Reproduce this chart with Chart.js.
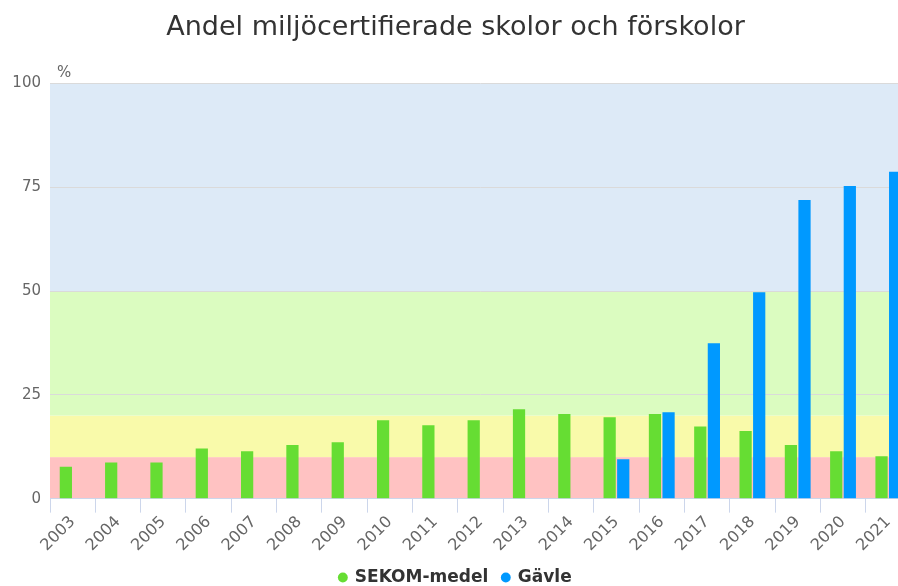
<!DOCTYPE html>
<html>
<head>
<meta charset="utf-8">
<script src="https://cdn.jsdelivr.net/npm/chart.js@4/dist/chart.umd.min.js"></script>
<style>
    html, body { margin: 0; padding: 0; overflow: hidden; background: #fff; }
    #chart-container { width: 920px; height: 596px; position: relative; }
</style>
</head>
<body>
<div id="chart-container"><canvas id="chart"></canvas></div>
<script>
const years = ['2003', '2004', '2005', '2006', '2007', '2008', '2009', '2010', '2011', '2012',
    '2013', '2014', '2015', '2016', '2017', '2018', '2019', '2020', '2021'];
const sekomValues = [7.7, 8.7, 8.7, 12.1, 11.4, 12.9, 13.6, 18.9, 17.7, 18.9,
    21.5, 20.4, 19.6, 20.4, 17.4, 16.3, 12.9, 11.4, 10.2];
const gavleValues = [null, null, null, null, null, null, null, null, null, null,
    null, null, 9.5, 20.8, 37.4, 49.7, 71.9, 75.3, 78.7];
const yTicks = [0, 25, 50, 75, 100];

// bakgrundsband (från, till, färg)
const bandFrom = [0, 10, 20, 50];
const bandTo = [10, 20, 50, 100];
const bandColors = ['#ffc2c2', '#f9faaa', '#dbfcc0', '#ddeaf7'];

const fontFamily = '"DejaVu Sans", "Lucida Grande", sans-serif';

const bandsPlugin = {
    id: 'bands',
    beforeDraw(chart) {
        const { ctx, chartArea, scales } = chart;
        ctx.save();
        bandFrom.forEach((from, i) => {
            const yTop = scales.y.getPixelForValue(bandTo[i]);
            const yBottom = scales.y.getPixelForValue(from);
            ctx.fillStyle = bandColors[i];
            ctx.fillRect(chartArea.left, yTop, chartArea.right - chartArea.left, yBottom - yTop);
        });
        ctx.restore();
    },
    afterDraw(chart) {
        const { ctx, chartArea } = chart;
        ctx.save();
        ctx.font = '15px ' + fontFamily;
        ctx.fillStyle = '#666666';
        ctx.textBaseline = 'bottom';
        ctx.fillText('%', chartArea.left + 7, chartArea.top - 3);
        ctx.restore();
    }
};

new Chart(document.getElementById('chart').getContext('2d'), {
    type: 'bar',
    data: {
        labels: years,
        datasets: [{
            label: 'SEKOM-medel',
            data: sekomValues,
            backgroundColor: '#66dd33',
            borderWidth: 0,
            barPercentage: 0.9,
            categoryPercentage: 0.6
        }, {
            label: 'Gävle',
            data: gavleValues,
            backgroundColor: '#0099ff',
            borderWidth: 0,
            barPercentage: 0.9,
            categoryPercentage: 0.6
        }]
    },
    options: {
        responsive: true,
        maintainAspectRatio: false,
        animation: false,
        layout: { padding: { left: 0, right: 9, top: 0, bottom: 0 } },
        scales: {
            y: {
                min: 0,
                max: 100,
                afterBuildTicks: (axis) => { axis.ticks = yTicks.map(v => ({ value: v })); },
                afterFit: (axis) => { axis.width = 50; },
                ticks: {
                    color: '#666666',
                    padding: 9,
                    font: { family: fontFamily, size: 15 }
                },
                grid: { color: '#dadada', drawTicks: false },
                border: { display: false }
            },
            x: {
                ticks: {
                    color: '#666666',
                    autoSkip: false,
                    minRotation: 45,
                    maxRotation: 45,
                    padding: 0,
                    font: { family: fontFamily, size: 16 }
                },
                grid: {
                    drawOnChartArea: false,
                    color: '#ccd6eb',
                    tickLength: 14
                },
                border: { color: '#ccd6eb' }
            }
        },
        plugins: {
            title: {
                display: true,
                text: 'Andel miljöcertifierade skolor och förskolor',
                color: '#333333',
                font: { family: fontFamily, size: 27, weight: 'normal' },
                padding: { top: 12, bottom: 39 }
            },
            legend: {
                position: 'bottom',
                labels: {
                    usePointStyle: true,
                    pointStyle: 'circle',
                    boxWidth: 7,
                    boxHeight: 7,
                    color: '#333333',
                    padding: 14,
                    font: { family: fontFamily, size: 17, weight: 'bold' }
                }
            },
            tooltip: { enabled: false }
        }
    },
    plugins: [bandsPlugin]
});
</script>
</body>
</html>
